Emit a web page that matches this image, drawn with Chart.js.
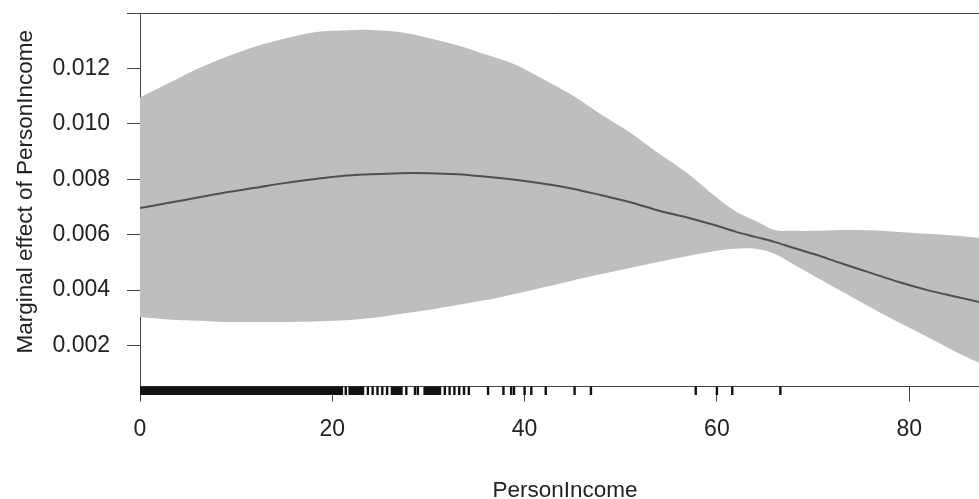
<!DOCTYPE html>
<html>
<head>
<meta charset="utf-8">
<script src="https://cdn.jsdelivr.net/npm/chart.js@4/dist/chart.umd.min.js"></script>
<style>
  html, body { margin: 0; padding: 0; background: #ffffff; }
  canvas { display: block; }
</style>
</head>
<body>
<canvas id="c" width="979" height="499"></canvas>
<script>
// ---- data ----
const income = [0, 3, 6, 9, 12, 15, 18, 21, 24, 27, 30, 33, 36, 39, 42, 45, 48, 51, 54, 57, 60, 62, 64, 66, 68, 70, 73, 76, 79, 82, 85, 87.3];
const effect = [0.00696, 0.00715, 0.00734, 0.00753, 0.00769, 0.00786, 0.00800, 0.00812, 0.00818, 0.00822, 0.00822, 0.00818, 0.00809, 0.00798, 0.00784, 0.00766, 0.00742, 0.00717, 0.00686, 0.00661, 0.00632, 0.00610, 0.00592, 0.00574, 0.00552, 0.00531, 0.00496, 0.00462, 0.00428, 0.00399, 0.00375, 0.00357];
const upperCI = [0.01095, 0.01147, 0.01199, 0.01242, 0.01279, 0.01307, 0.01330, 0.01337, 0.01339, 0.01331, 0.01310, 0.01284, 0.01250, 0.01214, 0.01160, 0.01102, 0.01033, 0.00968, 0.00892, 0.00820, 0.00733, 0.00683, 0.00650, 0.00617, 0.00614, 0.00614, 0.00617, 0.00616, 0.00610, 0.00603, 0.00596, 0.00589];
const lowerCI = [0.00303, 0.00294, 0.00289, 0.00285, 0.00285, 0.00285, 0.00287, 0.00290, 0.00299, 0.00314, 0.00328, 0.00346, 0.00364, 0.00386, 0.00410, 0.00435, 0.00458, 0.00480, 0.00502, 0.00523, 0.00542, 0.00549, 0.00549, 0.00531, 0.00492, 0.00453, 0.00395, 0.00337, 0.00282, 0.00229, 0.00175, 0.00137];
// observed PersonIncome values (rug)
const rugIncome = [
  0, 0.25, 0.5, 0.75, 1, 1.25, 1.5, 1.75, 2, 2.25, 2.5, 2.75, 3, 3.25, 3.5, 3.75,
  4, 4.25, 4.5, 4.75, 5, 5.25, 5.5, 5.75, 6, 6.25, 6.5, 6.75, 7, 7.25, 7.5, 7.75,
  8, 8.25, 8.5, 8.75, 9, 9.25, 9.5, 9.75, 10, 10.25, 10.5, 10.75, 11, 11.25, 11.5, 11.75,
  12, 12.25, 12.5, 12.75, 13, 13.25, 13.5, 13.75, 14, 14.25, 14.5, 14.75, 15, 15.25, 15.5, 15.75,
  16, 16.25, 16.5, 16.75, 17, 17.25, 17.5, 17.75, 18, 18.25, 18.5, 18.75, 19, 19.25, 19.5, 19.75,
  20, 20.25, 20.5, 20.75, 21,
  21.4, 21.8, 22.0, 22.2, 22.4, 22.6, 22.8, 23.0, 23.2,
  23.7, 24.2, 24.7, 25.2, 25.7, 26.2,
  26.4, 26.6, 26.8, 27.0, 27.2,
  27.7, 28.6, 28.9,
  29.6, 29.8, 30.0, 30.2, 30.4, 30.6, 30.8, 31.0, 31.2,
  31.7, 32.2, 32.7, 33.2, 33.7, 34.2,
  36.2, 37.8, 38.6, 38.9, 40.0, 40.7, 42.2, 45.2, 46.9, 57.8, 60.0, 61.6, 66.6
];
const xTicks = [0, 20, 40, 60, 80];
const yTickLabels = ['0.002', '0.004', '0.006', '0.008', '0.010', '0.012'];
const xTitle = 'PersonIncome';
const yTitle = 'Marginal effect of PersonIncome';

const pts = (ys) => income.map((x, i) => ({ x: x, y: ys[i] }));

const FONT = '"Liberation Sans", Arial, Helvetica, sans-serif';
const AXIS_COLOR = '#444444';
const TEXT_COLOR = '#222222';

const extras = {
  id: 'extras',
  afterDraw(chart) {
    const ctx = chart.ctx;
    const a = chart.chartArea;
    const xs = chart.scales.x;
    // top frame line
    ctx.save();
    ctx.strokeStyle = AXIS_COLOR;
    ctx.lineWidth = 1;
    ctx.beginPath();
    ctx.moveTo(a.left, Math.round(a.top) + 0.5);
    ctx.lineTo(a.right, Math.round(a.top) + 0.5);
    ctx.stroke();
    ctx.restore();
    // rug
    ctx.save();
    ctx.beginPath();
    ctx.rect(a.left, a.bottom - 2, a.right - a.left, 20);
    ctx.clip();
    ctx.strokeStyle = '#111111';
    ctx.lineWidth = 2.4;
    ctx.beginPath();
    rugIncome.forEach(v => {
      const px = xs.getPixelForValue(v);
      ctx.moveTo(px, a.bottom);
      ctx.lineTo(px, a.bottom + 8.5);
    });
    ctx.stroke();
    ctx.restore();
    // axis titles
    ctx.save();
    ctx.fillStyle = TEXT_COLOR;
    ctx.font = '22.5px ' + FONT;
    ctx.textAlign = 'center';
    ctx.textBaseline = 'alphabetic';
    ctx.fillText(xTitle, xs.getPixelForValue(44.2), 497);
    ctx.translate(32, (a.top + a.bottom) / 2 - 8);
    ctx.rotate(-Math.PI / 2);
    ctx.fillText(yTitle, 0, 0);
    ctx.restore();
  }
};

new Chart(document.getElementById('c'), {
  type: 'line',
  data: {
    datasets: [
      {
        label: 'lower',
        data: pts(lowerCI),
        borderWidth: 0,
        borderColor: 'rgba(0,0,0,0)',
        pointRadius: 0,
        fill: false,
        tension: 0.35,
        order: 3
      },
      {
        label: 'upper',
        data: pts(upperCI),
        borderWidth: 0,
        borderColor: 'rgba(0,0,0,0)',
        backgroundColor: '#bebebe',
        pointRadius: 0,
        fill: '-1',
        tension: 0.35,
        order: 2
      },
      {
        label: 'effect',
        data: pts(effect),
        borderWidth: 2,
        borderColor: '#505050',
        pointRadius: 0,
        fill: false,
        tension: 0.35,
        order: 1
      }
    ]
  },
  options: {
    responsive: false,
    animation: false,
    devicePixelRatio: 1,
    layout: { padding: { top: 13, right: 0, bottom: 0, left: 0 } },
    plugins: {
      legend: { display: false },
      tooltip: { enabled: false },
      filler: { propagate: false }
    },
    scales: {
      x: {
        type: 'linear',
        position: 'bottom',
        min: 0,
        max: 87.26,
        afterBuildTicks: (s) => { s.ticks = xTicks.map(v => ({ value: v })); },
        afterFit: (s) => { s.height = 112.5; s.paddingLeft = 0; s.paddingRight = 0; },
        ticks: {
          color: TEXT_COLOR,
          font: { family: FONT, size: 23 },
          padding: 14,
          maxRotation: 0,
          callback: (v) => String(v)
        },
        grid: {
          display: true,
          drawOnChartArea: false,
          drawTicks: true,
          tickLength: 15,
          color: AXIS_COLOR,
          lineWidth: 1
        },
        border: { display: true, color: AXIS_COLOR, width: 1 }
      },
      y: {
        type: 'linear',
        position: 'left',
        min: 0.00052,
        max: 0.014,
        afterBuildTicks: (s) => {
          const vals = yTickLabels.map(Number).concat([0.014]);
          s.ticks = vals.map(v => ({ value: v }));
        },
        afterFit: (s) => { s.width = 140; s.paddingTop = 0; s.paddingBottom = 0; },
        ticks: {
          color: TEXT_COLOR,
          font: { family: FONT, size: 23 },
          padding: 17,
          callback: (v) => {
            const i = yTickLabels.map(Number).findIndex(t => Math.abs(t - v) < 1e-9);
            return i >= 0 ? yTickLabels[i] : '';
          }
        },
        grid: {
          display: true,
          drawOnChartArea: false,
          drawTicks: true,
          tickLength: 13,
          color: AXIS_COLOR,
          lineWidth: 1
        },
        border: { display: true, color: AXIS_COLOR, width: 1 }
      }
    }
  },
  plugins: [extras]
});
</script>
</body>
</html>
